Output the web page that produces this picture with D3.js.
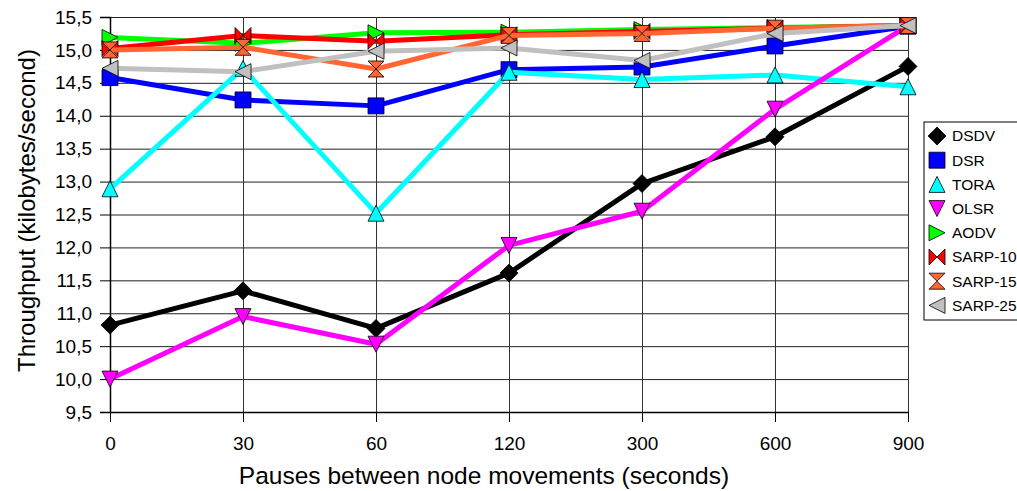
<!DOCTYPE html>
<html>
<head>
<meta charset="utf-8">
<script src="https://d3js.org/d3.v7.min.js"></script>
<style>
  body { margin: 0; background: #fff; }
  svg { display: block; font-family: Arial, "Liberation Sans", sans-serif; }
</style>
</head>
<body>
<div id="chart"></div>
<script>
// categories (pause times, seconds)
var pauses = ["0", "30", "60", "120", "300", "600", "900"];
var yTicks = [9.5, 10, 10.5, 11, 11.5, 12, 12.5, 13, 13.5, 14, 14.5, 15, 15.5];

// series values
var dsdv   = [10.82, 11.34, 10.77, 11.61, 12.97, 13.68, 14.75];
var dsr    = [14.58, 14.24, 14.15, 14.70, 14.74, 15.06, 15.36];
var tora   = [12.89, 14.72, 12.52, 14.66, 14.55, 14.62, 14.44];
var olsr   = [10.00, 10.95, 10.53, 12.03, 12.55, 14.10, 15.37];
var aodv   = [15.19, 15.10, 15.26, 15.27, 15.31, 15.34, 15.37];
var sarp10 = [15.02, 15.22, 15.13, 15.23, 15.28, 15.33, 15.37];
var sarp15 = [15.00, 15.04, 14.71, 15.22, 15.25, 15.33, 15.37];
var sarp25 = [14.72, 14.67, 14.98, 15.03, 14.84, 15.25, 15.37];

var seriesNames = ["DSDV", "DSR", "TORA", "OLSR", "AODV", "SARP-10", "SARP-15", "SARP-25"];
var seriesData  = [dsdv, dsr, tora, olsr, aodv, sarp10, sarp15, sarp25];
var seriesColor = ["#000000", "#0000ff", "#00ffff", "#ff00ff", "#00ff00", "#ff0000", "#ff6633", "#c0c0c0"];
var seriesShape = ["diamond", "square", "triUp", "triDown", "triRight", "bowtie", "hourglass", "triLeft"];

var W = 1017, H = 491;
var margin = { top: 17, right: 109, bottom: 79, left: 110 },
  width = W - margin.left - margin.right,
  height = H - margin.top - margin.bottom;

var svg = d3.select("#chart")
  .append("svg")
  .attr("width", W)
  .attr("height", H);

var g = svg.append("g")
  .attr("transform", "translate(" + margin.left + "," + margin.top + ")");

var x = d3.scalePoint()
  .domain(pauses)
  .range([0, width]);

var y = d3.scaleLinear()
  .domain([9.5, 15.5])
  .range([height, 0]);

var fmt = function (d) { return d3.format(".1f")(d).replace(".", ","); };

// horizontal gridlines
g.append("g")
  .call(d3.axisLeft(y).tickValues(yTicks).tickSize(-width).tickFormat(""))
  .call(function (a) {
    a.select(".domain").remove();
    a.selectAll("line").attr("stroke", "#222").attr("stroke-width", 1);
  });

// vertical gridlines
g.append("g")
  .attr("transform", "translate(0," + height + ")")
  .call(d3.axisBottom(x).tickSize(-height).tickFormat(""))
  .call(function (a) {
    a.select(".domain").remove();
    a.selectAll("line").attr("stroke", "#333").attr("stroke-width", 1);
  });

// Y axis
g.append("g")
  .call(d3.axisLeft(y).tickValues(yTicks).tickSize(10).tickPadding(8).tickFormat(fmt))
  .call(function (a) {
    a.select(".domain").attr("stroke", "#000").attr("stroke-width", 1.5);
    a.selectAll("line").attr("stroke", "#000");
    a.selectAll("text").attr("font-size", 19).attr("fill", "#000")
      .attr("font-family", "Arial, 'Liberation Sans', sans-serif");
  });

// X axis
g.append("g")
  .attr("transform", "translate(0," + height + ")")
  .call(d3.axisBottom(x).tickSizeInner(10).tickSizeOuter(0).tickPadding(15))
  .call(function (a) {
    a.select(".domain").attr("stroke", "#000").attr("stroke-width", 1.5);
    a.selectAll("line").attr("stroke", "#000");
    a.selectAll("text").attr("font-size", 19).attr("fill", "#000")
      .attr("font-family", "Arial, 'Liberation Sans', sans-serif");
  });

// marker path builder
function markerPath(shape, s) {
  var h = s / 2;
  switch (shape) {
    case "diamond": return "M0," + (-h) + "L" + h + ",0L0," + h + "L" + (-h) + ",0Z";
    case "square": return "M" + (-h) + "," + (-h) + "H" + h + "V" + h + "H" + (-h) + "Z";
    case "triUp": return "M0," + (-h) + "L" + h + "," + h + "L" + (-h) + "," + h + "Z";
    case "triDown": return "M" + (-h) + "," + (-h) + "L" + h + "," + (-h) + "L0," + h + "Z";
    case "triRight": return "M" + (-h) + "," + (-h) + "L" + h + ",0L" + (-h) + "," + h + "Z";
    case "triLeft": return "M" + h + "," + (-h) + "L" + (-h) + ",0L" + h + "," + h + "Z";
    case "bowtie": return "M" + (-h) + "," + (-h) + "L" + h + "," + h + "L" + h + "," + (-h) + "L" + (-h) + "," + h + "Z";
    case "hourglass": return "M" + (-h) + "," + (-h) + "L" + h + "," + (-h) + "L" + (-h) + "," + h + "L" + h + "," + h + "Z";
  }
}

var line = d3.line()
  .x(function (d, i) { return x(pauses[i]); })
  .y(function (d) { return y(d); });

seriesData.forEach(function (vals, k) {
  g.append("path")
    .datum(vals)
    .attr("fill", "none")
    .attr("stroke", seriesColor[k])
    .attr("stroke-width", 5)
    .attr("stroke-linejoin", "round")
    .attr("d", line);

  g.append("g")
    .selectAll("path")
    .data(vals)
    .enter()
    .append("path")
    .attr("transform", function (d, i) { return "translate(" + x(pauses[i]) + "," + y(d) + ")"; })
    .attr("d", markerPath(seriesShape[k], seriesShape[k] == "diamond" ? 18 : 16))
    .attr("fill", seriesColor[k])
    .attr("stroke", "#000")
    .attr("stroke-width", 0.8)
    .attr("stroke-linejoin", "miter");
});

// axis titles
svg.append("text")
  .attr("x", 484)
  .attr("y", 484)
  .attr("text-anchor", "middle")
  .attr("font-size", 24.5)
  .attr("fill", "#000")
  .text("Pauses between node movements (seconds)");

svg.append("text")
  .attr("transform", "translate(35," + (margin.top + height / 2 - 4) + ") rotate(-90)")
  .attr("text-anchor", "middle")
  .attr("font-size", 24)
  .attr("fill", "#000")
  .text("Throughput (kilobytes/second)");

// legend
var lg = svg.append("g").attr("transform", "translate(924,122)");
lg.append("rect")
  .attr("x", 0).attr("y", 0)
  .attr("width", 110).attr("height", 198)
  .attr("fill", "#fff")
  .attr("stroke", "#000")
  .attr("stroke-width", 1);

seriesNames.forEach(function (name, k) {
  var yy = 14 + k * 24.2;
  lg.append("path")
    .attr("transform", "translate(13," + yy + ")")
    .attr("d", markerPath(seriesShape[k], seriesShape[k] == "diamond" ? 18 : 16))
    .attr("fill", seriesColor[k])
    .attr("stroke", "#000")
    .attr("stroke-width", 0.8);
  lg.append("text")
    .attr("x", 28)
    .attr("y", yy)
    .attr("dy", "0.35em")
    .attr("font-size", 15.5)
    .attr("fill", "#000")
    .text(name);
});
</script>
</body>
</html>
